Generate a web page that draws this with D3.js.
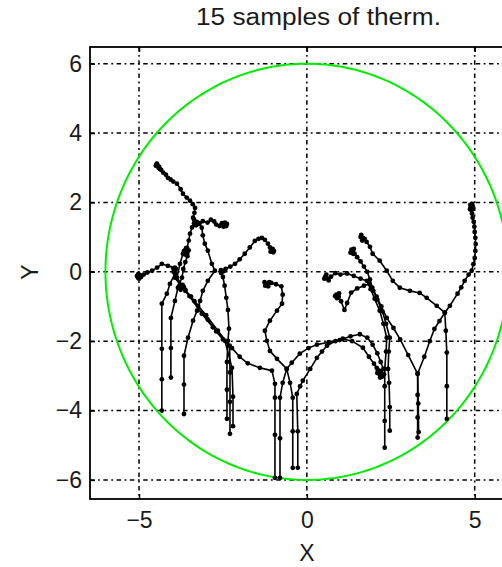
<!DOCTYPE html>
<html>
<head>
<meta charset="utf-8">
<script src="https://cdn.jsdelivr.net/npm/d3@7"></script>
<style>
  html, body { margin: 0; padding: 0; background: #fff; overflow: hidden; }
  text { font-family: "Liberation Sans", Arial, Helvetica, sans-serif; fill: #1a1a1a; }
</style>
</head>
<body>
<svg id="chart" width="502" height="567"></svg>
<script>
// ---- labels and ticks ----
const titleText = "15 samples of therm.";
const xLabel = "X";
const yLabel = "Y";
const xTicks = [-5, 0, 5];
const yTicks = [-6, -4, -2, 0, 2, 4, 6];
const boundaryRadius = 6;

// ---- the 15 sample trajectories, each listed from its lower end to its end cluster ----
const sample01 = [[-4.32,-4.0],[-4.32,-3.1],[-4.32,-2.22],[-4.32,-0.92],[-4.17,-0.63],[-4.08,-0.35],[-3.93,-0.06],[-3.93,0.12],[-4.14,0.17],[-4.32,0.23],[-4.46,0.12],[-4.61,0.03],[-4.75,-0.02],[-4.86,-0.08],[-4.95,-0.12],[-5.03,-0.17],[-4.98,-0.1],[-5.06,-0.12],[-5.0,-0.2],[-4.94,-0.15],[-5.02,-0.06]];
const sample02 = [[-4.05,-3.05],[-4.05,-2.2],[-4.05,-1.33],[-3.93,-0.84],[-3.84,-0.46],[-3.72,-0.17],[-3.68,0.08],[-3.62,0.28],[-3.56,0.45],[-3.62,0.56],[-3.52,0.62],[-3.6,0.68],[-3.66,0.6],[-3.56,0.54],[-3.63,0.5],[-3.58,0.64]];
const sample03 = [[-3.66,-4.1],[-3.66,-3.25],[-3.66,-2.42],[-3.54,-1.9],[-3.39,-1.41],[-3.27,-1.12],[-3.18,-0.84],[-3.1,-0.55],[-2.95,-0.26],[-2.74,0.03],[-2.83,0.23],[-2.95,0.61],[-3.04,0.81],[-3.1,1.05],[-3.13,1.27],[-3.2,1.4],[-3.1,1.46],[-2.96,1.42],[-2.86,1.5],[-2.76,1.45],[-2.7,1.36],[-2.6,1.32],[-2.53,1.4],[-2.46,1.36],[-2.4,1.32],[-2.44,1.42],[-2.38,1.38],[-2.48,1.3]];
const sample04 = [[-2.29,-4.67],[-2.29,-3.75],[-2.29,-2.9],[-2.3,-2.13],[-2.65,-1.7],[-3.0,-1.25],[-3.35,-0.85],[-3.62,-0.52],[-3.87,-0.17],[-3.78,0.23],[-3.69,0.52],[-3.57,0.69],[-3.52,0.9],[-3.48,1.1],[-3.42,1.28],[-3.36,1.4],[-3.28,1.44],[-3.22,1.38],[-3.3,1.34],[-3.36,1.5],[-3.39,1.56],[-3.35,1.7],[-3.33,1.84],[-3.4,1.95],[-3.48,2.05],[-3.58,2.14],[-3.69,2.25],[-3.76,2.38],[-3.87,2.54],[-3.98,2.6],[-4.06,2.66],[-4.14,2.71],[-4.2,2.8],[-4.28,2.86],[-4.34,2.94],[-4.4,3.02],[-4.46,3.1],[-4.42,3.0],[-4.5,3.06],[-4.38,2.96],[-4.47,3.12]];
const sample05 = [[-2.38,-4.24],[-2.38,-3.4],[-2.38,-2.6],[-2.35,-1.99],[-2.32,-1.64],[-2.35,-1.1],[-2.4,-0.75],[-2.45,-0.4],[-2.5,-0.15],[-2.55,-0.04],[-2.47,0.02],[-2.56,0.05],[-2.42,0.08],[-2.28,0.15],[-2.14,0.23],[-2.0,0.36],[-1.85,0.52],[-1.7,0.7],[-1.55,0.89],[-1.44,0.95],[-1.34,0.98],[-1.25,0.92],[-1.16,0.81],[-1.1,0.7],[-1.04,0.62],[-1.0,0.56],[-1.08,0.58],[-1.02,0.66],[-0.98,0.6]];
const sample06 = [[-2.2,-4.45],[-2.2,-3.6],[-2.23,-2.77],[-2.44,-1.99],[-2.8,-1.6],[-3.13,-1.21],[-3.5,-0.7],[-3.75,-0.4],[-3.93,-0.17],[-3.97,0.0],[-3.9,0.08],[-3.98,0.1],[-3.92,-0.04]];
const sample07 = [[-0.95,-5.94],[-0.95,-4.7],[-0.95,-3.63],[-0.95,-3.23],[-1.04,-2.85],[-1.4,-2.77],[-1.76,-2.64],[-2.0,-2.45],[-2.23,-2.2],[-2.5,-1.95],[-2.7,-1.72],[-2.95,-1.38],[-3.24,-0.98],[-3.45,-0.72],[-3.62,-0.55],[-3.72,-0.46],[-3.8,-0.4],[-3.7,-0.38],[-3.76,-0.52],[-3.66,-0.44]];
const sample08 = [[-0.42,-5.65],[-0.42,-4.6],[-0.42,-3.63],[-0.5,-3.2],[-0.6,-2.8],[-0.89,-2.51],[-1.1,-2.28],[-1.19,-1.99],[-1.25,-1.7],[-1.1,-1.41],[-0.89,-1.12],[-0.74,-0.92],[-0.72,-0.66],[-0.76,-0.42],[-0.92,-0.36],[-1.06,-0.32],[-1.19,-0.35],[-1.26,-0.3],[-1.15,-0.42],[-1.24,-0.4],[-1.12,-0.3]];
const sample09 = [[-0.8,-5.94],[-0.8,-4.8],[-0.8,-3.63],[-0.72,-3.2],[-0.6,-2.8],[-0.45,-2.62],[-0.21,-2.36],[0.05,-2.2],[0.3,-2.1],[0.65,-2.03],[0.98,-1.97],[1.3,-1.86],[1.58,-1.8],[1.8,-1.9],[1.96,-2.1],[2.1,-2.35],[2.2,-2.6],[2.28,-2.8],[2.22,-2.92],[2.3,-2.96],[2.17,-2.86],[2.25,-3.02]];
const sample10 = [[-0.27,-5.65],[-0.27,-4.6],[-0.3,-3.52],[-0.2,-3.3],[-0.12,-3.14],[0.1,-2.8],[0.3,-2.48],[0.45,-2.3],[0.6,-2.13],[0.85,-2.0],[1.07,-1.93],[1.35,-2.0],[1.67,-2.19],[1.85,-2.45],[2.0,-2.65],[2.08,-2.77],[2.15,-2.9],[2.22,-2.98],[2.1,-2.92],[2.18,-3.05],[2.12,-2.84]];
const sample11 = [[2.32,-5.07],[2.32,-4.3],[2.32,-3.3],[2.32,-2.8],[2.36,-2.3],[2.38,-1.9],[2.28,-1.5],[2.17,-1.12],[2.02,-0.78],[1.9,-0.5],[1.79,-0.26],[1.6,-0.2],[1.4,-0.12],[1.2,-0.05],[1.0,-0.08],[0.85,-0.04],[0.72,-0.14],[0.62,-0.2],[0.55,-0.14],[0.65,-0.25],[0.58,-0.08],[0.52,-0.2]];
const sample12 = [[2.47,-4.58],[2.47,-3.9],[2.45,-3.2],[2.42,-2.8],[2.44,-2.3],[2.47,-1.9],[2.36,-1.5],[2.25,-1.14],[2.1,-0.8],[1.98,-0.55],[1.87,-0.35],[1.7,-0.4],[1.5,-0.48],[1.32,-0.6],[1.2,-0.9],[1.12,-1.1],[1.02,-0.85],[0.95,-0.72],[0.88,-0.66],[0.96,-0.62],[0.9,-0.76],[0.84,-0.7]];
const sample13 = [[3.33,-4.62],[3.32,-3.8],[3.3,-2.94],[3.02,-2.4],[2.78,-1.95],[2.58,-1.62],[2.38,-1.33],[2.22,-1.0],[2.08,-0.72],[1.95,-0.46],[1.88,-0.22],[1.8,0.0],[1.7,0.15],[1.6,0.3],[1.5,0.42],[1.42,0.52],[1.36,0.6],[1.3,0.55],[1.4,0.66],[1.33,0.64],[1.38,0.52]];
const sample14 = [[3.3,-4.78],[3.3,-4.2],[3.3,-3.55],[3.3,-2.94],[3.5,-2.45],[3.66,-2.0],[3.8,-1.65],[3.95,-1.42],[4.11,-1.18],[3.87,-0.98],[3.57,-0.75],[3.36,-0.61],[3.07,-0.55],[2.77,-0.46],[2.56,-0.26],[2.38,0.03],[2.17,0.32],[1.96,0.52],[1.88,0.72],[1.78,0.86],[1.67,0.98],[1.62,1.06],[1.72,0.95],[1.65,0.9],[1.6,1.0]];
const sample15 = [[4.17,-4.24],[4.17,-3.3],[4.17,-2.33],[4.14,-1.7],[4.11,-1.18],[4.26,-0.98],[4.49,-0.63],[4.6,-0.45],[4.7,-0.26],[4.82,-0.08],[4.91,0.03],[4.96,0.22],[5.0,0.4],[5.02,0.6],[5.03,0.8],[5.02,0.98],[5.0,1.15],[4.99,1.3],[4.97,1.44],[4.94,1.56],[4.92,1.68],[4.9,1.78],[4.88,1.86],[4.94,1.9],[4.87,1.93],[4.95,1.82],[4.86,1.8],[4.92,1.96]];

const samples = [sample01, sample02, sample03, sample04, sample05, sample06, sample07, sample08,
                 sample09, sample10, sample11, sample12, sample13, sample14, sample15];

// ---- layout ----
const svg = d3.select("#chart");
const plot = { left: 90, top: 47, bottom: 499, right: 528.4 };

const x = d3.scaleLinear().domain([-6.46, 6.6]).range([plot.left, plot.right]);
const y = d3.scaleLinear().domain([-6.55, 6.48]).range([plot.bottom, plot.top]);

svg.append("defs").append("clipPath").attr("id", "plotClip")
  .append("rect")
  .attr("x", plot.left).attr("y", plot.top)
  .attr("width", plot.right - plot.left).attr("height", plot.bottom - plot.top);

// dash-dot grid
const grid = svg.append("g").attr("stroke", "#000").attr("stroke-width", 1.5)
  .attr("stroke-dasharray", "4.5,3.5,1.8,3.5").attr("fill", "none");
grid.selectAll("line.v").data(xTicks).join("line").attr("class", "v")
  .attr("x1", d => x(d)).attr("x2", d => x(d))
  .attr("y1", plot.top).attr("y2", plot.bottom);
grid.selectAll("line.h").data(yTicks).join("line").attr("class", "h")
  .attr("x1", plot.left).attr("x2", plot.right)
  .attr("y1", d => y(d)).attr("y2", d => y(d));

const body = svg.append("g").attr("clip-path", "url(#plotClip)");

// boundary circle of radius 6
const circlePts = d3.range(0, 361, 2).map(a => {
  const t = a * Math.PI / 180;
  return [boundaryRadius * Math.cos(t), boundaryRadius * Math.sin(t)];
});
const line = d3.line().x(d => x(d[0])).y(d => y(d[1]));
body.append("path").datum(circlePts)
  .attr("d", line).attr("fill", "none")
  .attr("stroke", "#00ee00").attr("stroke-width", 2);

// sample trajectories
const trajG = body.append("g");
trajG.selectAll("path.traj").data(samples).join("path").attr("class", "traj")
  .attr("d", line).attr("fill", "none")
  .attr("stroke", "#000").attr("stroke-width", 1.6).attr("stroke-linejoin", "round");
trajG.selectAll("g.pts").data(samples).join("g").attr("class", "pts")
  .selectAll("circle").data(d => d).join("circle")
  .attr("cx", d => x(d[0])).attr("cy", d => y(d[1])).attr("r", 2.4).attr("fill", "#000");

// axes with inward ticks
const fontSize = 23;
const xAxis = svg.append("g").attr("transform", `translate(0,${plot.bottom})`)
  .call(d3.axisBottom(x).tickValues(xTicks).tickSizeInner(-5).tickSizeOuter(0).tickPadding(13));
const xAxisTop = svg.append("g").attr("transform", `translate(0,${plot.top})`)
  .call(d3.axisTop(x).tickValues(xTicks).tickSizeInner(-5).tickSizeOuter(0).tickFormat(""));
const yAxis = svg.append("g").attr("transform", `translate(${plot.left},0)`)
  .call(d3.axisLeft(y).tickValues(yTicks).tickSizeInner(-5).tickSizeOuter(0).tickPadding(8));
[xAxis, xAxisTop, yAxis].forEach(g => {
  g.select(".domain").remove();
  g.selectAll(".tick line").attr("stroke", "#000").attr("stroke-width", 1.5);
  g.selectAll(".tick text").attr("font-size", fontSize)
    .attr("font-family", "Liberation Sans, Arial, sans-serif").attr("fill", "#1a1a1a");
});

// axes box
svg.append("rect")
  .attr("x", plot.left).attr("y", plot.top)
  .attr("width", plot.right - plot.left).attr("height", plot.bottom - plot.top)
  .attr("fill", "none").attr("stroke", "#000").attr("stroke-width", 1.8);

// title and axis labels
svg.append("text").attr("x", 318.5).attr("y", 25).attr("text-anchor", "middle")
  .attr("font-size", fontSize).attr("textLength", 245).attr("lengthAdjust", "spacingAndGlyphs")
  .text(titleText);
svg.append("text").attr("x", 307).attr("y", 561).attr("text-anchor", "middle")
  .attr("font-size", fontSize).text(xLabel);
svg.append("text").attr("transform", "translate(38,272) rotate(-90)").attr("text-anchor", "middle")
  .attr("font-size", fontSize).text(yLabel);
</script>
</body>
</html>
